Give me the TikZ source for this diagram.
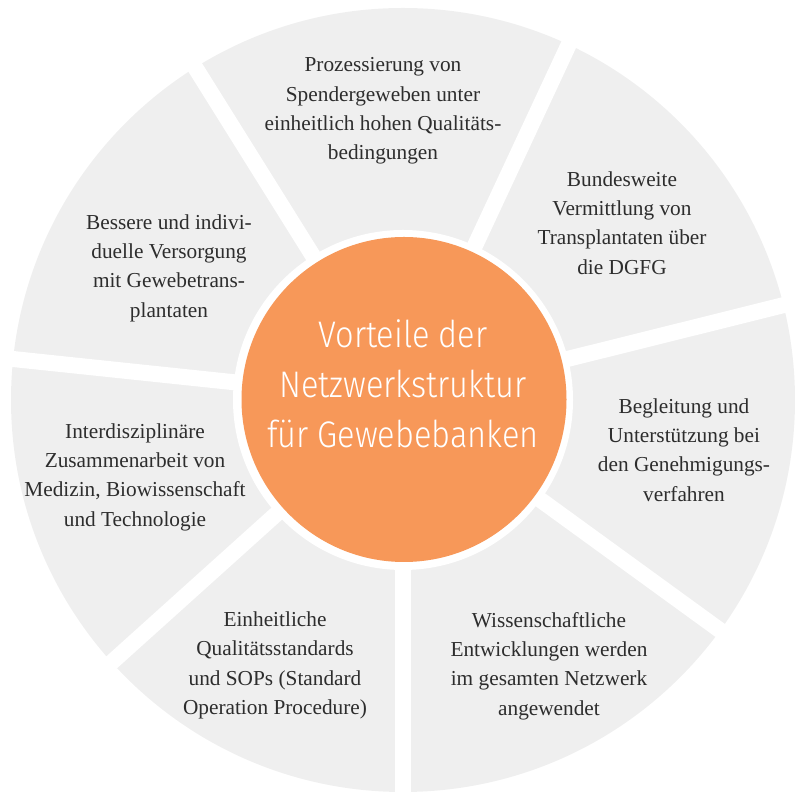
\documentclass[tikz,border=0pt]{standalone}
\usepackage{fontspec}
\setmainfont{Liberation Serif}
\newfontfamily\mittefont[FakeStretch=0.88]{Fira Sans Light}
\usepackage{xcolor}
\definecolor{sektorgrau}{RGB}{239,239,239}
\definecolor{orangeton}{RGB}{247,152,89}
\definecolor{textgrau}{RGB}{45,45,45}

\begin{document}
\begin{tikzpicture}[x=1pt,y=1pt,
    sektortext/.style={align=center,text=textgrau,inner sep=0pt,
      font=\fontsize{21.3}{29.3}\selectfont},
    spalt/.style={draw=white,line width=16pt}]
  \useasboundingbox (0,0) rectangle (795,794);
  \clip (0,0) rectangle (795,794);
  \coordinate (M) at (403,394);
  % Ring mit sieben Sektoren
  \fill[sektorgrau] (M) circle (392);
  \foreach \w in {14,65,122,174,222,270,324}
    \draw[spalt] (M) -- ++(\w:410);
  \fill[white] (M) circle (170);
  \node[circle,fill=orangeton,minimum size=325pt,inner sep=0pt] (mitte) at (404,394.5) {};
  \node[align=center,text=white,inner sep=0pt,
    font=\mittefont\fontsize{37}{50}\selectfont] (titel) at (403,410.5)
    {Vorteile der\\Netzwerkstruktur\\für Gewebebanken};
  % Texte der Sektoren
  \node[sektortext] (prozess) at (383,683)
    {Prozessierung von\\Spendergeweben unter\\einheitlich hohen Qualitäts-\\bedingungen};
  \node[sektortext] (vermittlung) at (622,571)
    {Bundesweite\\Vermittlung von\\Transplantaten über\\die DGFG};
  \node[sektortext] (begleitung) at (684,344)
    {Begleitung und\\Unterstützung bei\\den Genehmigungs-\\verfahren};
  \node[sektortext] (wissen) at (549,128)
    {Wissenschaftliche\\Entwicklungen werden\\im gesamten Netzwerk\\angewendet};
  \node[sektortext] (standards) at (275,128.5)
    {Einheitliche\\Qualitätsstandards\\und SOPs (Standard\\Operation Procedure)};
  \node[sektortext] (interdis) at (135,317)
    {Interdisziplinäre\\Zusammenarbeit von\\Medizin, Biowissenschaft\\und Technologie};
  \node[sektortext] (versorgung) at (169,526)
    {Bessere und indivi-\\duelle Versorgung\\mit Gewebetrans-\\plantaten};
\end{tikzpicture}
\end{document}
